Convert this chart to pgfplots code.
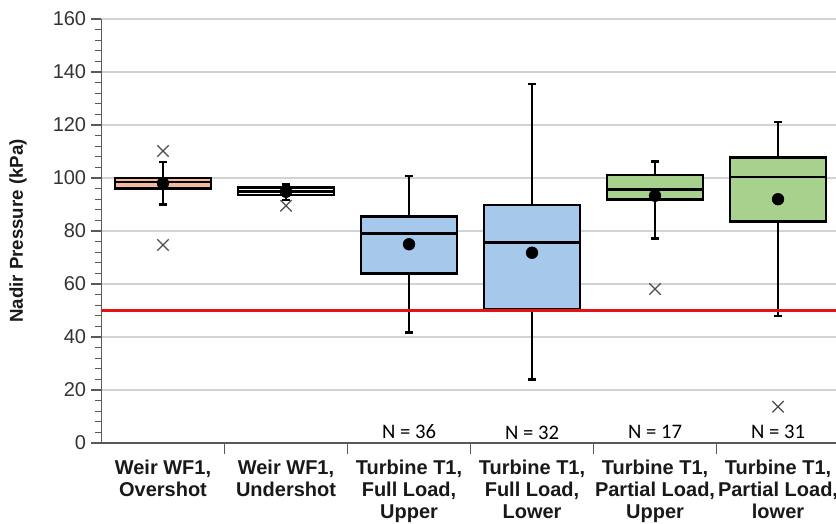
\documentclass[border=0pt]{standalone}
\usepackage{fontspec}
\setmainfont{Liberation Sans}
\newfontfamily\calibri{Carlito}
\usepackage{pgfplots}
\usepgfplotslibrary{statistics}
\pgfplotsset{compat=1.18}
\definecolor{salmon}{RGB}{244,184,160}
\definecolor{boxblue}{RGB}{165,200,235}
\definecolor{boxgreen}{RGB}{169,209,142}
\definecolor{gridgray}{RGB}{210,210,210}
\definecolor{redline}{RGB}{228,20,20}
\begin{document}
\begin{tikzpicture}
\useasboundingbox (0,0) rectangle (627pt,393pt);
\begin{axis}[
  at={(76.125pt,60.75pt)}, anchor=south west,
  scale only axis, width=550.9pt, height=318pt,
  xmin=-0.5, xmax=5.4715, ymin=0, ymax=160,
  axis x line*=bottom, axis y line*=left,
  axis line style={-, draw=black!65, line width=0.9pt},
  ytick={0,20,...,160}, minor y tick num=4,
  ymajorgrids, grid style={draw=gridgray, line width=0.8pt},
  xtick={0.5,1.5,2.5,3.5,4.5}, xticklabels={},
  extra x ticks={0,1,2,3,4,5},
  extra x tick labels={{Weir WF1,\\Overshot},{Weir WF1,\\Undershot},{Turbine T1,\\Full Load,\\Upper},{Turbine T1,\\Full Load,\\Lower},{Turbine T1,\\Partial Load,\\Upper},{Turbine T1,\\Partial Load,\\lower}},
  extra x tick style={major tick length=0pt, grid=none},
  x tick label style={font=\bfseries\fontsize{15}{16.5}\selectfont, align=center, text=black!90, yshift=-9pt},
  tick align=outside, major tick length=8pt, minor tick length=4.5pt,
  tick style={draw=black!65, line width=0.8pt},
  /pgf/number format/assume math mode=true,
  y tick label style={font=\fontsize{15}{17}\selectfont, text=black!80},
  ylabel={Nadir Pressure (kPa)},
  every axis y label/.style={at={(axis description cs:-0.1137,0.5)}, rotate=90, anchor=center, font=\bfseries\fontsize{14}{15}\selectfont, text=black!90},
  boxplot/draw direction=y,
]
\addplot[boxplot prepared={draw position=0, lower whisker=90, lower quartile=96, median=98.5, upper quartile=100, upper whisker=106, box extend=0.78, whisker extend=0.065}, draw=black, fill=salmon, line width=1.9pt, mark=none] coordinates {};
\addplot[boxplot prepared={draw position=1, lower whisker=91.7, lower quartile=93.6, median=95, upper quartile=96.4, upper whisker=97.6, box extend=0.78, whisker extend=0.065}, draw=black, fill=white, line width=1.9pt, mark=none] coordinates {};
\addplot[boxplot prepared={draw position=2, lower whisker=41.6, lower quartile=64, median=79.1, upper quartile=85.4, upper whisker=100.8, box extend=0.78, whisker extend=0.065}, draw=black, fill=boxblue, line width=1.9pt, mark=none] coordinates {};
\addplot[boxplot prepared={draw position=3, lower whisker=24, lower quartile=50.4, median=75.7, upper quartile=89.8, upper whisker=135.5, box extend=0.78, whisker extend=0.065}, draw=black, fill=boxblue, line width=1.9pt, mark=none] coordinates {};
\addplot[boxplot prepared={draw position=4, lower whisker=77.2, lower quartile=91.9, median=95.7, upper quartile=101.1, upper whisker=106.2, box extend=0.78, whisker extend=0.065}, draw=black, fill=boxgreen, line width=1.9pt, mark=none] coordinates {};
\addplot[boxplot prepared={draw position=5, lower whisker=48, lower quartile=83.5, median=100.3, upper quartile=107.7, upper whisker=121.1, box extend=0.78, whisker extend=0.065}, draw=black, fill=boxgreen, line width=1.9pt, mark=none] coordinates {};
% means
\addplot[only marks, mark=*, mark size=4.4pt, black] coordinates {(0,98) (1,94.8) (2,75) (3,71.8) (4,93.3) (5,92)};
% outliers
\addplot[only marks, mark=x, mark size=6pt, draw=black!70, line width=0.9pt] coordinates {(0,110.2) (0,74.7) (1,89.5) (4,58.1) (5,13.7)};
% threshold
\addplot[redline, line width=2.2pt] coordinates {(-0.5,50) (5.5,50)};
\node[font=\calibri\fontsize{15.5}{17}\selectfont] at (axis cs:2,4.3) {N = 36};
\node[font=\calibri\fontsize{15.5}{17}\selectfont] at (axis cs:3,3.8) {N = 32};
\node[font=\calibri\fontsize{15.5}{17}\selectfont] at (axis cs:4,4.3) {N = 17};
\node[font=\calibri\fontsize{15.5}{17}\selectfont] at (axis cs:5,4.3) {N = 31};
\end{axis}
\end{tikzpicture}
\end{document}
